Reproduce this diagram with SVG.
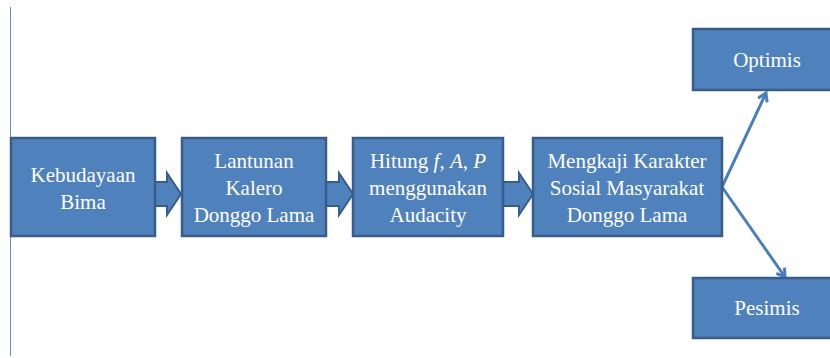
<svg xmlns="http://www.w3.org/2000/svg" width="830" height="358" viewBox="0 0 830 358">
<defs>
<style>
.box{fill:#4F81BD;stroke:#385D8A;stroke-width:2.5}
.t{font-size:21px;fill:#ffffff;text-anchor:middle}
.ba{fill:#4F81BD;stroke:#385D8A;stroke-width:2}
.ln{stroke:#4A7EBB;stroke-width:3;fill:none}
</style>
<marker id="ah" markerWidth="12" markerHeight="12" refX="9" refY="6" orient="auto" markerUnits="userSpaceOnUse">
<path d="M1,1 L9,6 L1,11" fill="none" stroke="#4A7EBB" stroke-width="3"/>
</marker>
</defs>
<rect width="830" height="358" fill="#ffffff"/>
<line x1="10.5" y1="7" x2="10.5" y2="356" stroke="#6A8FC0" stroke-width="1"/>
<g id="connectors">
<path class="ba" d="M155,182 H167 V173 L181,194 L167,215 V206 H155 Z"/>
<path class="ba" d="M326,182 H339 V173 L353,194 L339,215 V206 H326 Z"/>
<path class="ba" d="M503,182 H519 V173 L533,194 L519,215 V206 H503 Z"/>
<line class="ln" x1="722" y1="187" x2="766" y2="93" marker-end="url(#ah)"/>
<line class="ln" x1="722" y1="187" x2="785" y2="277" marker-end="url(#ah)"/>
</g>
<g font-family="'Liberation Serif', 'DejaVu Serif', 'Times New Roman', serif">
<g id="n1">
<rect class="box" x="11" y="138" width="144" height="98"/>
<text class="t" x="83" y="182">Kebudayaan</text>
<text class="t" x="83" y="209">Bima</text>
</g>
<g id="n2">
<rect class="box" x="182" y="138" width="144" height="98"/>
<text class="t" x="254" y="168">Lantunan</text>
<text class="t" x="254" y="195">Kalero</text>
<text class="t" x="254" y="222">Donggo Lama</text>
</g>
<g id="n3">
<rect class="box" x="353" y="138" width="150" height="98"/>
<text class="t" x="428" y="168">Hitung <tspan font-style="italic">f</tspan>,  <tspan font-style="italic">A</tspan>, <tspan font-style="italic">P</tspan></text>
<text class="t" x="428" y="195">menggunakan</text>
<text class="t" x="428" y="222">Audacity</text>
</g>
<g id="n4">
<rect class="box" x="533" y="138" width="189" height="98"/>
<text class="t" x="627" y="168">Mengkaji Karakter</text>
<text class="t" x="627" y="195">Sosial Masyarakat</text>
<text class="t" x="627" y="222">Donggo Lama</text>
</g>
<g id="n5">
<rect class="box" x="693" y="29" width="145" height="61"/>
<text class="t" x="767" y="67">Optimis</text>
</g>
<g id="n6">
<rect class="box" x="693" y="278" width="145" height="60"/>
<text class="t" x="767" y="315">Pesimis</text>
</g>
</g>
</svg>
